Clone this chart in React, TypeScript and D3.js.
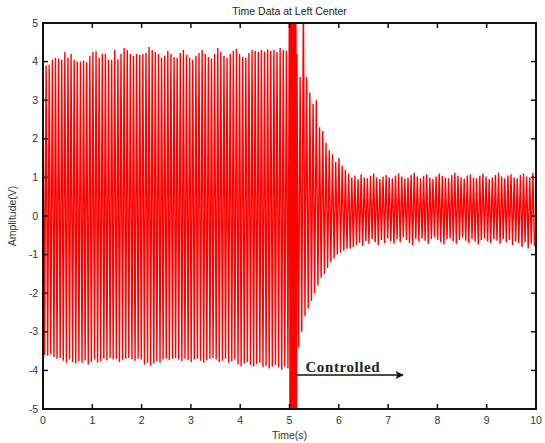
import React from 'react';
import * as d3 from 'd3';

// peak values, one pair (top, bottom) per visible spike
const beforeStart = 0;
const beforeEnd = 5.0;
const beforeUpper = [
  3.95, 3.9, 3.92, 4.05, 4.1, 4.08, 4.05, 4.25, 4.1, 4.2, 4.05, 4.0, 4.0, 4.02, 3.98, 4.15,
  4.25, 4.27, 4.1, 4.2, 4.2, 4.05, 4.05, 4.3, 4.06, 4.2, 4.35, 4.3, 4.2, 4.15, 4.2, 4.18,
  4.2, 4.22, 4.38, 4.3, 4.25, 4.2, 4.1, 4.15, 4.28, 4.2, 4.12, 4.1, 4.22, 4.3, 4.18, 4.1,
  4.05, 4.15, 4.22, 4.3, 4.2, 4.12, 4.08, 4.2, 4.35, 4.25, 4.15, 4.1, 4.2, 4.28, 4.33, 4.2,
  4.12, 4.1, 4.22, 4.3, 4.28, 4.25, 4.3, 4.26, 4.32, 4.28, 4.3, 4.25, 4.35, 4.3, 4.28,
];
const beforeLower = [
  -3.6, -3.62, -3.58, -3.65, -3.7, -3.68, -3.75, -3.8, -3.72, -3.78, -3.82, -3.76, -3.8, -3.74, -3.85, -3.78,
  -3.72, -3.8, -3.76, -3.7, -3.74, -3.68, -3.72, -3.7, -3.78, -3.74, -3.7, -3.68, -3.72, -3.75, -3.7, -3.72,
  -3.85, -3.8, -3.88, -3.82, -3.76, -3.8, -3.72, -3.7, -3.74, -3.7, -3.68, -3.72, -3.76, -3.7, -3.74, -3.78,
  -3.72, -3.7, -3.75, -3.8, -3.74, -3.7, -3.68, -3.72, -3.78, -3.75, -3.7, -3.8, -3.76, -3.72, -3.85, -3.9,
  -3.82, -3.78, -3.86, -3.9, -3.84, -3.8, -3.92, -3.88, -3.95, -3.9, -3.86, -3.92, -3.98, -3.9, -3.95,
];

// the saturated burst just after 5 s (runs off the scale both ways)
const burstStart = 5.0;
const burstEnd = 5.15;
const burstUpper = [6.5, 6.5, 6.5, 6.5, 6.5, 6.5, 6.5];
const burstLower = [-6.5, -6.5, -6.5, -6.5, -6.5, -6.5, -6.5];

const transStart = 5.15;
const transEnd = 6.2;
const transUpper = [4.2, 3.6, 5.6, 3.6, 3.2, 2.9, 3.0, 2.3, 2.2, 1.9, 1.7, 1.6, 1.4, 1.5, 1.3, 1.2];
const transLower = [-3.4, -3.0, -2.6, -2.4, -2.2, -2.0, -1.8, -1.6, -1.5, -1.35, -1.2, -1.1, -1.0, -0.95, -0.9, -0.85];

const afterStart = 6.2;
const afterEnd = 10;
const afterUpper = [
  1.1, 1.0, 1.05, 0.95, 1.08, 1.0, 0.98, 1.04, 1.1, 1.0, 0.96, 1.02, 1.06, 1.0, 0.98, 1.05,
  1.1, 1.02, 0.97, 1.0, 1.06, 1.12, 1.02, 0.98, 1.04, 1.08, 1.0, 0.96, 1.02, 1.1, 1.04, 1.0,
  0.98, 1.06, 1.12, 1.04, 1.0, 0.97, 1.05, 1.08, 1.0, 0.98, 1.04, 1.1, 1.02, 0.96, 1.0, 1.06,
  1.12, 1.02, 0.98, 1.05, 1.08, 1.0, 0.98, 1.06, 1.1, 1.02, 1.0, 1.12,
];
const afterLower = [
  -0.85, -0.8, -0.75, -0.7, -0.78, -0.65, -0.72, -0.6, -0.68, -0.75, -0.62, -0.7, -0.58, -0.66, -0.72, -0.6,
  -0.68, -0.55, -0.62, -0.7, -0.76, -0.6, -0.66, -0.58, -0.64, -0.72, -0.6, -0.55, -0.62, -0.68, -0.74, -0.6,
  -0.58, -0.66, -0.72, -0.62, -0.56, -0.64, -0.7, -0.6, -0.66, -0.74, -0.62, -0.58, -0.66, -0.7, -0.6, -0.64,
  -0.72, -0.6, -0.68, -0.62, -0.76, -0.66, -0.7, -0.8, -0.68, -0.84, -0.72, -0.78,
];

const xTicks = [0, 1, 2, 3, 4, 5, 6, 7, 8, 9, 10];
const yTicks = [-5, -4, -3, -2, -1, 0, 1, 2, 3, 4, 5];

const title = 'Time Data at Left Center';
const xLabel = 'Time(s)';
const yLabel = 'Amplitude(V)';
const note = 'Controlled';
const noteFrom = 5.12;
const noteTo = 7.3;
const noteY = -4.12;

const W = 545, H = 443;
const margin = { top: 23, right: 9, bottom: 34, left: 43 };

type Pt = { t: number; v: number };

function spikes(start: number, end: number, upper: number[], lower: number[]): Pt[] {
  const step = (end - start) / upper.length;
  const out: Pt[] = [];
  upper.forEach((u, i) => {
    out.push({ t: start + i * step, v: u });
    out.push({ t: start + (i + 0.5) * step, v: lower[i] });
  });
  return out;
}

export default function App() {
  const innerW = W - margin.left - margin.right;
  const innerH = H - margin.top - margin.bottom;

  const x = d3.scaleLinear().domain([0, 10]).range([0, innerW]);
  const y = d3.scaleLinear().domain([-5, 5]).range([innerH, 0]);

  const points = [
    ...spikes(beforeStart, beforeEnd, beforeUpper, beforeLower),
    ...spikes(burstStart, burstEnd, burstUpper, burstLower),
    ...spikes(transStart, transEnd, transUpper, transLower),
    ...spikes(afterStart, afterEnd, afterUpper, afterLower),
  ];

  const line = d3.line<Pt>().x(d => x(d.t)).y(d => y(d.v));

  const labelFont = '"Liberation Sans", Arial, sans-serif';
  const tickLen = 5;

  return (
    <svg width={W} height={H} style={{ position: 'absolute', left: 0, top: 0, background: '#fff' }}>
      <defs>
        <clipPath id="plotClip">
          <rect x={0} y={0} width={innerW} height={innerH} />
        </clipPath>
        <marker id="arrowHead" viewBox="0 0 10 10" refX="9" refY="5" markerWidth="11" markerHeight="8"
          markerUnits="userSpaceOnUse" orient="auto">
          <path d="M0,0 L10,5 L0,10 L2,5 Z" fill="#111" />
        </marker>
      </defs>

      <text x={margin.left + innerW / 2} y={15} textAnchor="middle" fontFamily={labelFont} fontSize={10.5} fill="#222">
        {title}
      </text>

      <g transform={`translate(${margin.left},${margin.top})`}>
        <g clipPath="url(#plotClip)">
          <path d={line(points) ?? ''} fill="none" stroke="#ff0000" strokeWidth={1.4} strokeLinejoin="miter" />
        </g>

        {/* annotation */}
        <text x={x(noteFrom) + 10} y={y(noteY) - 3} fontFamily='"Liberation Serif", "Times New Roman", serif'
          fontWeight="bold" fontSize={15} fill="#222" letterSpacing={0.6}>
          {note}
        </text>
        <line x1={x(noteFrom)} x2={x(noteTo)} y1={y(noteY)} y2={y(noteY)} stroke="#111" strokeWidth={1.6}
          markerEnd="url(#arrowHead)" />

        {/* box */}
        <rect x={0} y={0} width={innerW} height={innerH} fill="none" stroke="#111" strokeWidth={2} />

        {xTicks.map(t => (
          <g key={`x${t}`}>
            <line x1={x(t)} x2={x(t)} y1={innerH} y2={innerH - tickLen} stroke="#111" strokeWidth={1.5} />
            <line x1={x(t)} x2={x(t)} y1={0} y2={tickLen} stroke="#111" strokeWidth={1.5} />
            <text x={x(t)} y={innerH + 15} textAnchor="middle" fontFamily={labelFont} fontSize={10.5} fill="#333">
              {t}
            </text>
          </g>
        ))}

        {yTicks.map(t => (
          <g key={`y${t}`}>
            <line x1={0} x2={tickLen} y1={y(t)} y2={y(t)} stroke="#111" strokeWidth={1.5} />
            <line x1={innerW} x2={innerW - tickLen} y1={y(t)} y2={y(t)} stroke="#111" strokeWidth={1.5} />
            <text x={-5} y={y(t) + 3.5} textAnchor="end" fontFamily={labelFont} fontSize={10.5} fill="#333">
              {t}
            </text>
          </g>
        ))}

        <text x={innerW / 2} y={innerH + 30} textAnchor="middle" fontFamily={labelFont} fontSize={10.5} fill="#333">
          {xLabel}
        </text>
        <text transform={`translate(${-27},${innerH / 2}) rotate(-90)`} textAnchor="middle" fontFamily={labelFont}
          fontSize={10.5} fill="#333">
          {yLabel}
        </text>
      </g>
    </svg>
  );
}
